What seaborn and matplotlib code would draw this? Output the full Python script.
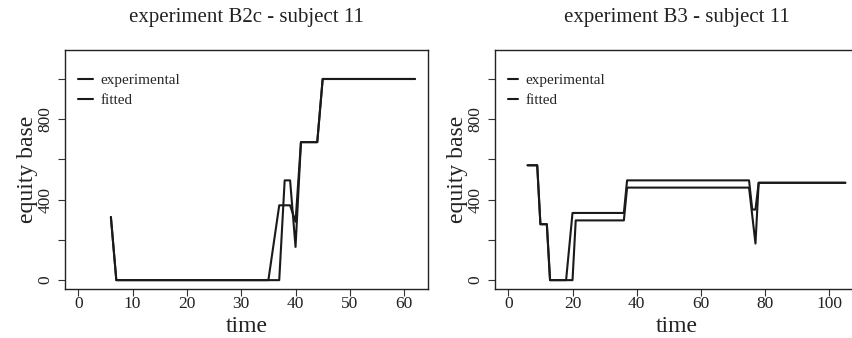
import matplotlib
matplotlib.use("Agg")
import matplotlib.pyplot as plt
import pandas as pd
import seaborn as sns
from matplotlib.lines import Line2D

# experiment B2c - subject 11 (breakpoints of the piecewise-linear paths)
b2c_exp_time = [6, 7, 37, 38, 39, 40, 41, 44, 45, 62]
b2c_exp_value = [314, 0, 0, 496, 496, 165, 686, 686, 1000, 1000]
b2c_fit_time = [6, 7, 35, 37, 39, 40, 41, 44, 45, 62]
b2c_fit_value = [314, 0, 0, 372, 372, 290, 686, 686, 1000, 1000]

# experiment B3 - subject 11
b3_exp_time = [6, 9, 10, 12, 13, 20, 21, 36, 37, 75, 77, 78, 105]
b3_exp_value = [571, 571, 278, 278, 0, 0, 297, 297, 460, 460, 182, 484, 484]
b3_fit_time = [6, 9, 10, 12, 13, 18, 20, 36, 37, 75, 76, 77, 78, 105]
b3_fit_value = [571, 571, 278, 278, 0, 0, 334, 334, 496, 496, 351, 351, 484, 484]

titles = ["experiment B2c - subject 11", "experiment B3 - subject 11"]
series_names = ["experimental", "fitted"]
x_ticks = [[0, 10, 20, 30, 40, 50, 60], [0, 20, 40, 60, 80, 100]]
x_limits = [(-2.48, 64.48), (-4.2, 109.2)]
y_ticks = [0, 200, 400, 600, 800, 1000]
y_tick_labels = ["0", "", "400", "", "800", ""]

sns.set_style("ticks")
plt.rcParams["font.family"] = ["Liberation Serif", "DejaVu Serif"]
plt.rcParams["xtick.direction"] = "out"
plt.rcParams["ytick.direction"] = "out"


def frame(times_a, values_a, times_b, values_b):
    return pd.concat([
        pd.DataFrame({"time": times_a, "equity": values_a, "series": series_names[0]}),
        pd.DataFrame({"time": times_b, "equity": values_b, "series": series_names[1]}),
    ], ignore_index=True)


panels = [
    frame(b2c_exp_time, b2c_exp_value, b2c_fit_time, b2c_fit_value),
    frame(b3_exp_time, b3_exp_value, b3_fit_time, b3_fit_value),
]

fig = plt.figure(figsize=(8.52, 3.38), dpi=100)
rects = [[0.0761, 0.145, 0.4268, 0.707], [0.5808, 0.145, 0.4272, 0.707]]
handle_lengths = [1.0, 0.65]
ink = "#1a1a1a"
text_col = "#222222"

for i, df in enumerate(panels):
    ax = fig.add_axes(rects[i])
    sns.lineplot(data=df, x="time", y="equity", hue="series",
                 palette={series_names[0]: ink, series_names[1]: ink},
                 estimator=None, sort=False, linewidth=1.5, legend=False, ax=ax)
    ax.set_xlim(*x_limits[i])
    ax.set_ylim(-44, 1144)
    ax.set_xticks(x_ticks[i])
    ax.set_yticks(y_ticks)
    ax.set_yticklabels(y_tick_labels, rotation=90, va="center")
    ax.tick_params(axis="both", labelsize=12.5, length=5, width=0.8, color="#333333",
                   labelcolor=text_col)
    ax.tick_params(axis="x", pad=0)
    ax.tick_params(axis="y", pad=3)
    for sp in ax.spines.values():
        sp.set_visible(True)
        sp.set_linewidth(1.0)
        sp.set_color(text_col)
    ax.set_xlabel("time", fontsize=17, labelpad=3, color=text_col)
    ax.set_ylabel("equity base", fontsize=17, labelpad=0, color=text_col)
    ax.set_title(titles[i], fontsize=15, pad=20, color=text_col)
    handles = [Line2D([0], [0], color=ink, lw=1.5) for _ in series_names]
    ax.legend(handles, series_names, loc="upper left", bbox_to_anchor=(0.036, 0.903),
              frameon=False, fontsize=11, handlelength=handle_lengths[i],
              handletextpad=0.5, labelspacing=0.45, borderaxespad=0, borderpad=0)

fig.savefig("out.png", dpi=100)
